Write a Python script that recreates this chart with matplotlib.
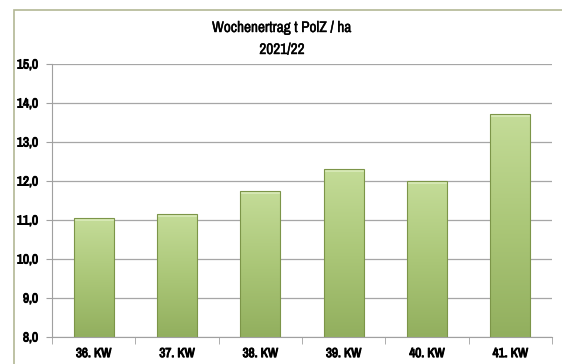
import matplotlib.pyplot as plt
import numpy as np
from matplotlib.patches import Rectangle
from matplotlib.colors import LinearSegmentedColormap
from matplotlib import font_manager
import matplotlib.patheffects as pe

weeks = ["36. KW", "37. KW", "38. KW", "39. KW", "40. KW", "41. KW"]
ertrag = [11.05, 11.15, 11.75, 12.32, 12.0, 13.72]
yticks = [8.0, 9.0, 10.0, 11.0, 12.0, 13.0, 14.0, 15.0]

# pick a narrow font if one is there (the original uses Calibri)
names = sorted({f.name for f in font_manager.fontManager.ttflist})
narrow = [n for n in names if "Narrow" in n or "Condensed" in n]
fam = narrow[0] if narrow else "Liberation Sans"
plt.rcParams['font.family'] = [fam, 'DejaVu Sans']

fig = plt.figure(figsize=(5.62, 3.64), dpi=100)
ax = fig.add_axes([52/562, 27/364, 500/562, 273/364])

# outer chart frame
fig.patches.append(Rectangle((14/562, -0.1), 1.1, (364-10)/364 + 0.1,
                             transform=fig.transFigure, fill=False,
                             edgecolor="#b3b795", linewidth=1.2))

grad = LinearSegmentedColormap.from_list("g", ["#92af5e", "#abc778", "#c4dc98"])
x = np.arange(len(weeks))
w = 0.48
bars = ax.bar(x, ertrag, width=w, bottom=0, color="none",
              edgecolor="#7c9548", linewidth=0.8, zorder=3)
img = np.linspace(0, 1, 100).reshape(-1, 1)
for b in bars:
    x0, y0 = b.get_x(), 8.0
    im = ax.imshow(img, cmap=grad, aspect="auto", origin="lower",
                   extent=[x0, x0 + b.get_width(), y0, b.get_height()],
                   zorder=2)
    im.set_clip_path(b)
    # light top cap
    ax.add_patch(Rectangle((x0, b.get_height() - 0.08), b.get_width(), 0.08,
                           facecolor="#d6e8b4", edgecolor="none", zorder=2.5))

bold = [pe.withStroke(linewidth=0.7, foreground="black")]

ax.set_xlim(-0.5, len(weeks) - 0.5)
ax.set_ylim(8.0, 15.0)
ax.set_yticks(yticks)
ax.set_yticklabels([f"{v:.1f}".replace(".", ",") for v in yticks],
                   fontsize=9.5, fontweight="bold")
ax.set_xticks(x)
ax.set_xticklabels(weeks, fontsize=9.5, fontweight="bold")
for t in ax.get_xticklabels() + ax.get_yticklabels():
    t.set_path_effects(bold)
ax.tick_params(axis="x", length=0, pad=8)
ax.set_xticks(np.arange(-0.5, len(weeks)), minor=True)
ax.tick_params(axis="x", which="minor", length=5, color="#a0a0a0")
ax.tick_params(axis="y", length=4, color="#a0a0a0", pad=6)
ax.yaxis.grid(True, color="#a6a6a6", linewidth=0.9, zorder=0)
ax.set_axisbelow(True)
for s in ["top", "right"]:
    ax.spines[s].set_visible(False)
for s in ["left", "bottom"]:
    ax.spines[s].set_color("#a0a0a0")

fig.text(282/562, 1 - 28/364, "Wochenertrag t PolZ / ha", ha="center",
         va="center", fontsize=11, path_effects=[pe.withStroke(linewidth=0.3, foreground="black")])
fig.text(282/562, 1 - 50/364, "2021/22", ha="center", va="center",
         fontsize=11, path_effects=[pe.withStroke(linewidth=0.3, foreground="black")])

fig.savefig("out.png", dpi=100)
